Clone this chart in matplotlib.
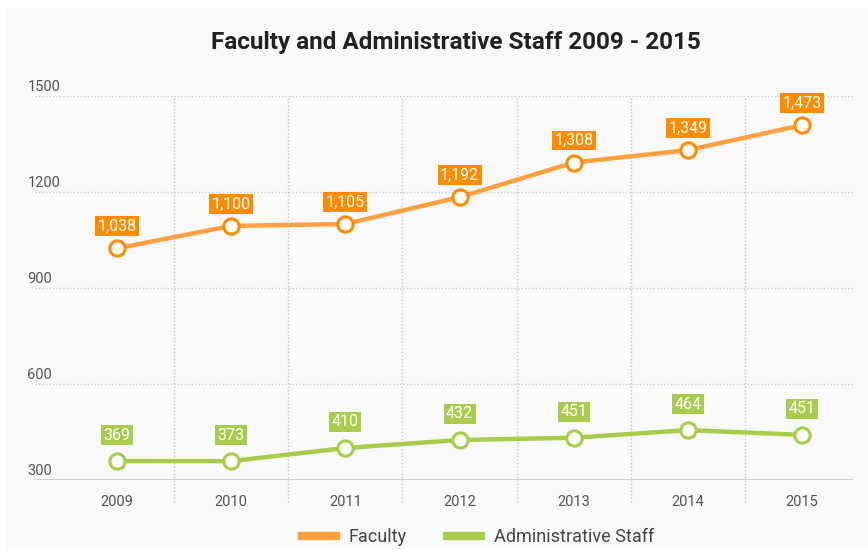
import matplotlib
matplotlib.use("Agg")
import matplotlib.pyplot as plt
from matplotlib.patches import Rectangle
from matplotlib.lines import Line2D

years = ["2009", "2010", "2011", "2012", "2013", "2014", "2015"]
faculty_plotted = [1024, 1094, 1100, 1184, 1292, 1331, 1409]
faculty_labels = ["1,038", "1,100", "1,105", "1,192", "1,308", "1,349", "1,473"]
admin_plotted = [359, 359, 400, 425, 432, 456, 441]
admin_labels = ["369", "373", "410", "432", "451", "464", "451"]
y_ticks = [300, 600, 900, 1200, 1500]

plt.rcParams['font.family'] = ['Roboto', 'DejaVu Sans']

FAC_LINE = "#FFA040"
FAC_BOX = "#FF8C00"
ADM_LINE = "#A6CE4A"
ADM_BOX = "#A8CC4E"
BG = "#F9F9F9"

fig = plt.figure(figsize=(8.68, 5.5), dpi=100, facecolor="white")
fig.patches.append(Rectangle((5/868, 0), 1, 1 - 8/550, transform=fig.transFigure,
                             facecolor=BG, edgecolor="none", zorder=-10))

ax = fig.add_axes([35/868, 1 - 480/550, (853 - 35)/868, (480 - 96)/550])
ax.set_zorder(2)
ax.set_facecolor("none")
x = list(range(len(years)))
ax.set_xlim(-0.718, 6.445)
ax.set_ylim(300, 1500)

for s in ax.spines.values():
    s.set_visible(False)
ax.set_xticks([])
ax.set_yticks([])

# horizontal grid
for v in y_ticks:
    if v == 300:
        ax.axhline(v, color="#C8C8C8", lw=1.2, zorder=1)
    else:
        ax.axhline(v, color="#C8C8C8", lw=1.0, ls=(0, (1, 1.5)), zorder=1)
    ax.text(-0.785, v + 6, str(v), ha="left", va="bottom", fontsize=10.5,
            color="#555555", clip_on=False)

# vertical separators extending below axis
for i in range(len(years) - 1):
    ax.axvline(i + 0.5, ymin=-0.057, ymax=1, color="#C8C8C8", lw=1.0,
               ls=(0, (1, 1.5)), clip_on=False, zorder=1)

for i, yr in enumerate(years):
    ax.text(i, 300 - 22 / 0.32, yr, ha="center", va="center", fontsize=10.5,
            color="#555555", clip_on=False)

ax.plot(x, faculty_plotted, color=FAC_LINE, lw=3.2, marker="o", ms=11,
        mfc="white", mec=FAC_BOX, mew=2.2, zorder=3)
ax.plot(x, admin_plotted, color=ADM_LINE, lw=3.2, marker="o", ms=11,
        mfc="white", mec=ADM_LINE, mew=2.2, zorder=3)

def label(xi, yi, txt, col, off):
    ax.annotate(txt, (xi, yi), xytext=(0, off), textcoords="offset pixels",
                ha="center", va="center", fontsize=11.5, color="white",
                bbox=dict(boxstyle="square,pad=0.15", fc=col, ec="none"), zorder=4)

for i in x:
    label(i, faculty_plotted[i], faculty_labels[i], FAC_BOX, 22)
    label(i, admin_plotted[i], admin_labels[i], ADM_BOX, 26)

fig.text(456/868, 1 - 42/550, "Faculty and Administrative Staff 2009 - 2015",
         ha="center", va="center", fontsize=17.5, fontweight="bold",
         color="#222222")

handles = [Line2D([], [], color=FAC_LINE, lw=6), Line2D([], [], color=ADM_LINE, lw=6)]
fig.legend(handles, ["Faculty", "Administrative Staff"], loc="center",
           bbox_to_anchor=(478/868, 1 - 537/550), ncol=2, frameon=False,
           fontsize=13, handlelength=1.9, columnspacing=2.2, handletextpad=0.7,
           labelcolor="#444444")

fig.savefig("out.png", dpi=100, facecolor="white")
